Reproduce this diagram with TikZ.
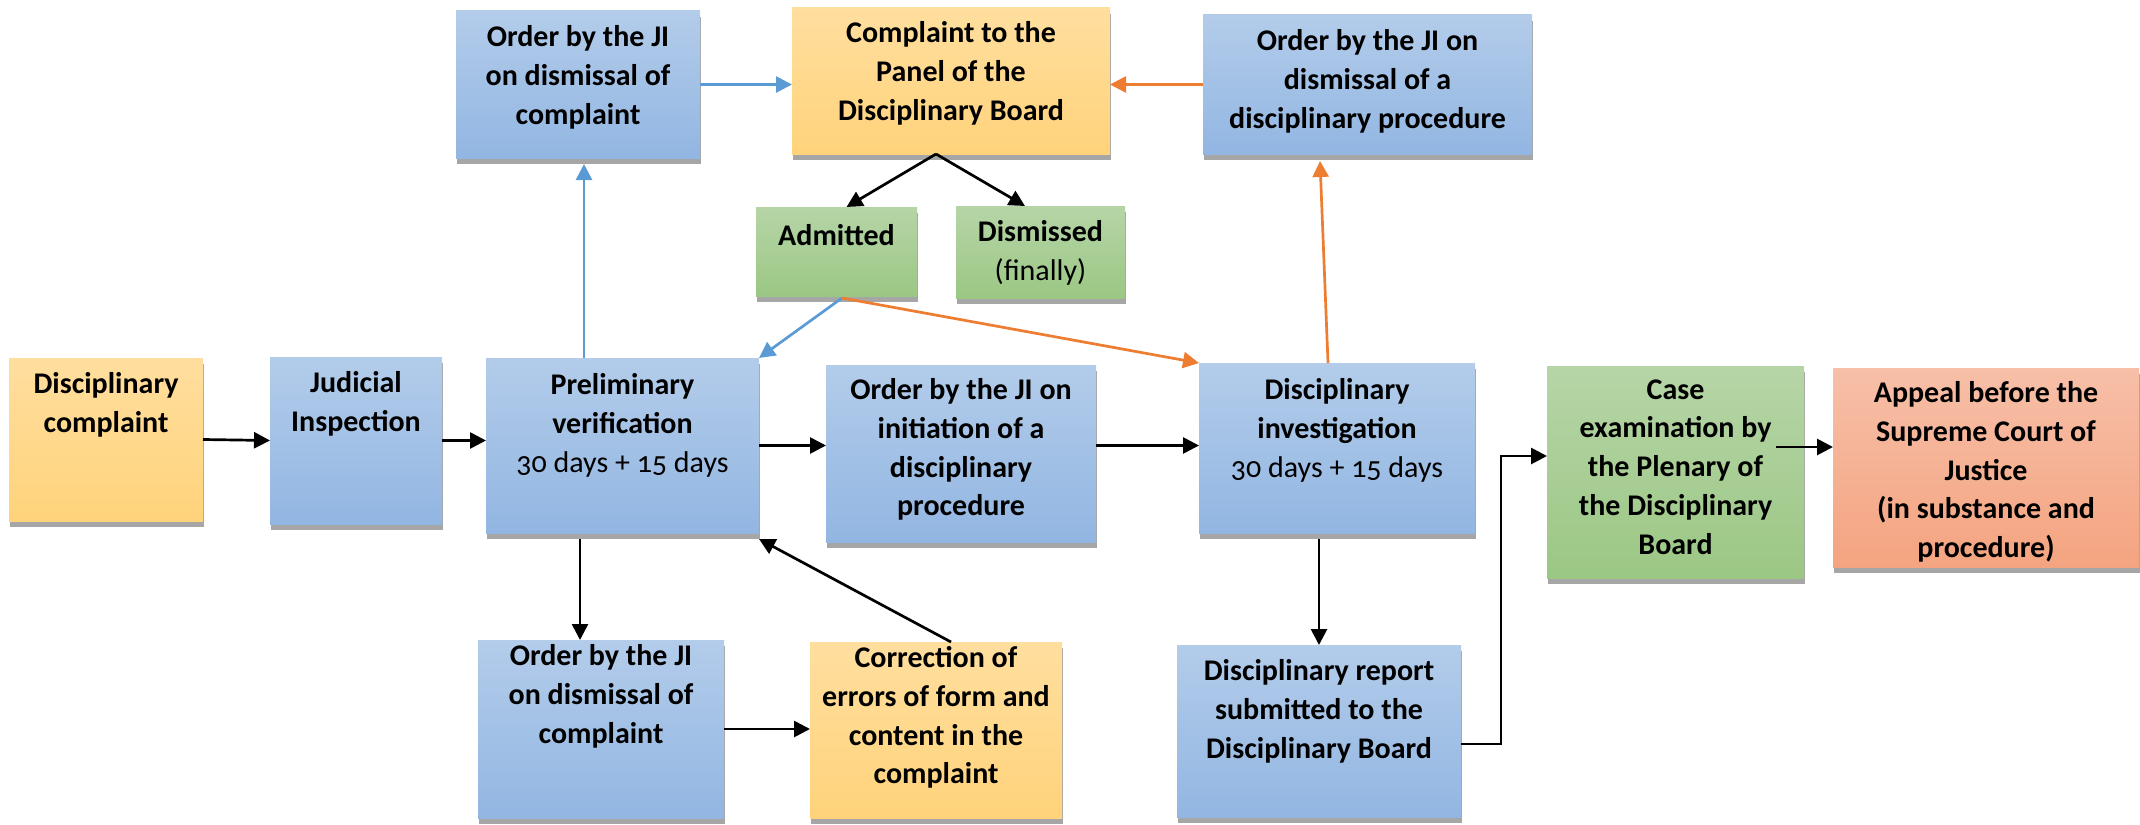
\documentclass[tikz,border=0pt]{standalone}
\usepackage{fontspec}
\setmainfont{Carlito}
\usetikzlibrary{arrows.meta,shadows,fit,calc}
\definecolor{bluetop}{HTML}{B3CCEA}
\definecolor{bluebot}{HTML}{92B6E2}
\definecolor{orgtop}{HTML}{FFDE9E}
\definecolor{orgbot}{HTML}{FFD37B}
\definecolor{grntop}{HTML}{B6D5A7}
\definecolor{grnbot}{HTML}{9BC784}
\definecolor{saltop}{HTML}{F7BFA8}
\definecolor{salbot}{HTML}{F4A480}
\definecolor{shadowgray}{HTML}{A6A6A6}
\definecolor{lineblue}{HTML}{5B9BD5}
\definecolor{lineorange}{HTML}{ED7D31}
\tikzset{
  box/.style={inner sep=0pt, outer sep=0pt, draw=none,
    general shadow={fill=shadowgray, shadow yshift=-3pt, shadow xshift=0.5pt}},
  bluebox/.style={box, top color=bluetop, bottom color=bluebot},
  orgbox/.style={box, top color=orgtop, bottom color=orgbot},
  grnbox/.style={box, top color=grntop, bottom color=grnbot},
  salbox/.style={box, top color=saltop, bottom color=salbot},
  lbl/.style={anchor=north, align=center, inner sep=0pt,
    font=\fontsize{15}{19.4}\selectfont\bfseries,
    execute at begin node={\rule{0pt}{12pt}}},
  arr/.style={line width=1.35pt, -{Triangle[length=8pt,width=8pt]}},
  barr/.style={arr, draw=lineblue, -{Triangle[length=8pt,width=8pt,fill=lineblue]}},
  oarr/.style={arr, draw=lineorange, -{Triangle[length=8pt,width=8pt,fill=lineorange]}},
}
\newcommand{\reg}[1]{{\mdseries\addfontfeatures{Numbers=OldStyle}#1}}
\begin{document}
\begin{tikzpicture}[x=0.5pt,y=-0.5pt]
\useasboundingbox (0,0) rectangle (2140,824);
% boxes
\node[orgbox, fit={(9,358) (203,521)}] (DC) {};
\node[bluebox, fit={(270,357) (442,524)}] (JI) {};
\node[bluebox, fit={(486,358) (759,533)}] (PV) {};
\node[bluebox, fit={(456,11) (700,158)}] (OTL) {};
\node[orgbox, fit={(792,8) (1110,154)}] (CP) {};
\node[bluebox, fit={(1203,15) (1532,154)}] (OTR) {};
\node[grnbox, fit={(756,207) (917,296)}] (AD) {};
\node[grnbox, fit={(956,206) (1125,298)}] (DS) {};
\node[bluebox, fit={(826,365) (1096,542)}] (OI) {};
\node[bluebox, fit={(1199,363) (1475,533)}] (DI) {};
\node[grnbox, fit={(1547,366) (1804,578)}] (CE) {};
\node[salbox, fit={(1833,368) (2139,567)}] (AP) {};
\node[bluebox, fit={(478,640) (724,818)}] (OB) {};
\node[orgbox, fit={(810,642) (1062,818)}] (CO) {};
\node[bluebox, fit={(1177,645) (1461,817)}] (DR) {};
% texts
\node[lbl] (tDC) at ($(DC.north)+(0,14)$) {Disciplinary\\complaint};
\node[lbl] (tJI) at ($(JI.north)+(0,14)$) {Judicial\\Inspection};
\node[lbl] (tPV) at ($(PV.north)+(0,15)$) {Preliminary\\verification\\\reg{30 days + 15 days}};
\node[lbl] (tOTL) at ($(OTL.north)+(0,14)$) {Order by the JI\\on dismissal of\\complaint};
\node[lbl] (tCP) at ($(CP.north)+(0,13)$) {Complaint to the\\Panel of the\\Disciplinary Board};
\node[lbl] (tOTR) at ($(OTR.north)+(0,14)$) {Order by the JI on\\dismissal of a\\disciplinary procedure};
\node[lbl] (tAD) at ($(AD.north)+(0,14)$) {Admitted};
\node[lbl] (tDS) at ($(DS.north)+(0,14)$) {Dismissed\\\reg{(finally)}};
\node[lbl] (tOI) at ($(OI.north)+(0,13)$) {Order by the JI on\\initiation of a\\disciplinary\\procedure};
\node[lbl] (tDI) at ($(DI.north)+(0,15)$) {Disciplinary\\investigation\\\reg{30 days + 15 days}};
\node[lbl] (tCE) at ($(CE.north)+(0,13)$) {Case\\examination by\\the Plenary of\\the Disciplinary\\Board};
\node[lbl] (tAP) at ($(AP.north)+(0,13)$) {Appeal before the\\Supreme Court of\\Justice\\(in substance and\\procedure)};
\node[lbl] (tOB) at ($(OB.north)+(0,4)$) {Order by the JI\\on dismissal of\\complaint};
\node[lbl] (tCO) at ($(CO.north)+(0,4)$) {Correction of\\errors of form and\\content in the\\complaint};
\node[lbl] (tDR) at ($(DR.north)+(0,14)$) {Disciplinary report\\submitted to the\\Disciplinary Board};
% connectors
\draw[arr] (DC.east) -- (JI.west);
\draw[arr] (JI.east) -- (JI.east -| PV.west);
\draw[arr] (PV.east) -- (PV.east -| OI.west);
\draw[arr] (PV.east -| OI.east) -- (PV.east -| DI.west);
\draw[barr] ([xshift=3pt]OTL.south |- PV.north) -- ([xshift=3pt,yshift=-3pt]OTL.south);
\draw[barr] (OTL.east) -- (OTL.east -| CP.west);
\draw[oarr] (OTR.west) -- (OTR.west -| CP.east);
\draw[arr] ([xshift=-7.5pt]CP.south) -- ([xshift=5pt]AD.north);
\draw[arr] ([xshift=-7.5pt]CP.south) -- ([xshift=-7.75pt]DS.north);
\draw[barr] ([xshift=2.75pt,yshift=-1pt]AD.south) -- (PV.north east);
\draw[oarr] ([xshift=2.75pt,yshift=-1pt]AD.south) -- (DI.north west);
\draw[oarr] ([xshift=-4.5pt]DI.north) -- ([xshift=-23.75pt,yshift=-3.5pt]OTR.south);
\draw[arr] ([xshift=-10.5pt,yshift=-3pt]OB.north |- PV.south) -- ([xshift=-10.5pt]OB.north);
\draw[arr] (OB.east) -- (OB.east -| CO.west);
\draw[arr] ([xshift=7.5pt]CO.north) -- ([yshift=-3pt]PV.south east);
\draw[arr] ([yshift=-3pt]DR.north |- DI.south) -- (DR.north);
\draw[arr] ([yshift=-6.5pt]DR.east) -- ++(40,0) |- ([yshift=8pt]CE.west);
\draw[arr] ([xshift=-14pt,yshift=12.5pt]CE.east) -- ([yshift=12.5pt]CE.east -| AP.west);
\end{tikzpicture}
\end{document}
